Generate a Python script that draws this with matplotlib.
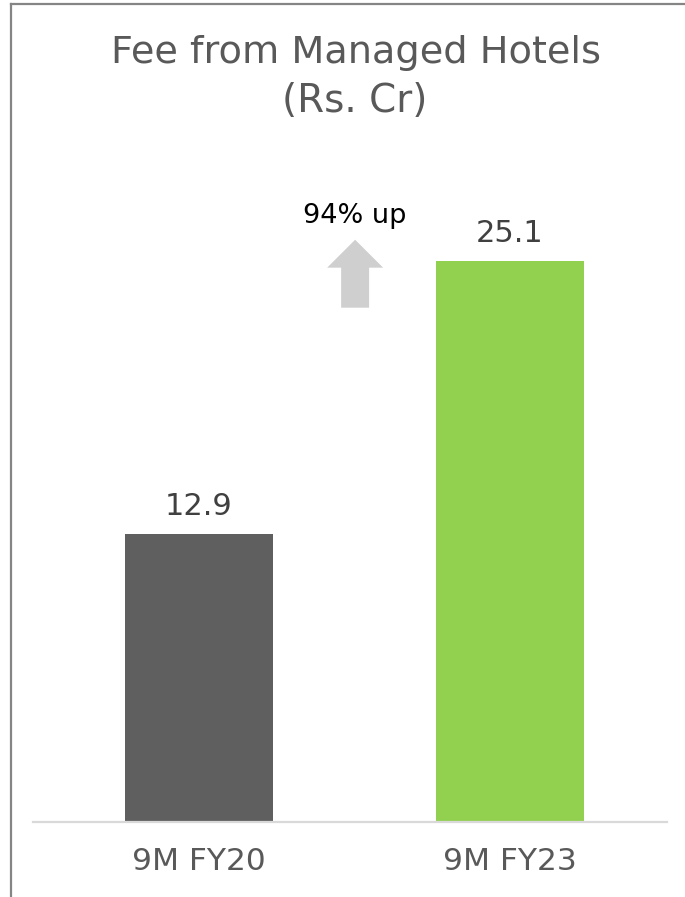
import matplotlib
matplotlib.use("Agg")
import matplotlib.pyplot as plt
from matplotlib.lines import Line2D
from matplotlib.patches import FancyArrow

categories = ["9M FY20", "9M FY23"]
values = [12.9, 25.1]
bar_colors = ["#5f5f5f", "#92d050"]
growth_label = "94% up"
title_lines = ["Fee from Managed Hotels", "(Rs. Cr)"]

plt.rcParams['font.family'] = ['DejaVu Sans']
W, H = 685, 897
fig = plt.figure(figsize=(W / 100, H / 100), dpi=100)

# frame around the slide panel (left and top only)
fig.add_artist(Line2D([10.5 / W, 10.5 / W], [0, 1 - 4.5 / H], color="#858585", lw=1.6))
fig.add_artist(Line2D([10.5 / W, 1], [1 - 4.5 / H, 1 - 4.5 / H], color="#858585", lw=1.6))

ax = fig.add_axes([33 / W, (H - 822) / H, 634 / W, (822 - 140) / H])
x = list(range(len(categories)))
bars = ax.bar(x, values, width=0.476, color=bar_colors)

ax.set_xlim(-0.534, 1.505)
ax.set_ylim(0, 30.5)

for b, v in zip(bars, values):
    ax.annotate(f"{v}", (b.get_x() + b.get_width() / 2, v), xytext=(0, 13.5),
                textcoords="offset points", ha="center", va="baseline",
                fontsize=22, color="#404040")

# growth arrow + label
ax.add_patch(FancyArrow(0.502, 23.0, 0, 3.04, width=0.09, head_width=0.18,
                        head_length=1.25, length_includes_head=True,
                        color="#d0cfd0", lw=0))
ax.text(0.502, 26.8, growth_label, ha="center", va="baseline", fontsize=19.5, color="black")

ax.set_xticks(x)
ax.set_xticklabels(categories, fontsize=22.5, color="#595959")
ax.tick_params(axis="x", length=0, pad=18)
ax.set_yticks([])
for s in ["top", "right", "left"]:
    ax.spines[s].set_visible(False)
ax.spines["bottom"].set_color("#d9d9d9")
ax.spines["bottom"].set_linewidth(1.6)

fig.text(356 / W, 1 - 63 / H, title_lines[0], ha="center", va="baseline", fontsize=27.5,
         color="#595959")
fig.text(355 / W, 1 - 112 / H, title_lines[1], ha="center", va="baseline", fontsize=28,
         color="#595959")

fig.savefig("out.png", dpi=100)
